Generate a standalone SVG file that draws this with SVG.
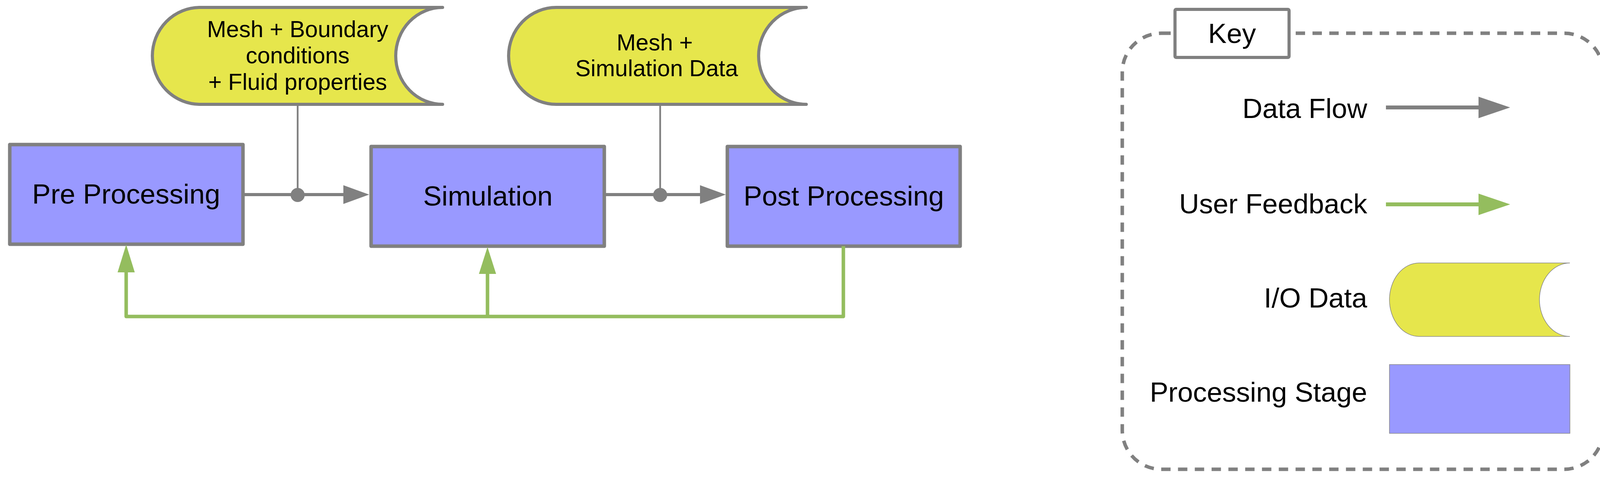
<svg xmlns="http://www.w3.org/2000/svg" width="4124" height="1231" viewBox="0 0 4124 1231">
<style>
text{font-family:"Liberation Sans",Arial,sans-serif;fill:#000}
.big{font-size:71px}
.mid{font-size:59px}
.proc{fill:#9999ff;stroke:#808080;stroke-width:9;stroke-linejoin:round}
.io{fill:#e6e64c;stroke:#808080;stroke-width:8;stroke-linejoin:round;stroke-linecap:round}
.flow{stroke:#808080;stroke-width:8;fill:none}
.thin{stroke:#808080;stroke-width:4.5;fill:none}
.fb{stroke:#94bd5e;stroke-width:9;fill:none;stroke-linejoin:round}
.gh{fill:#808080}
.grh{fill:#94bd5e}
</style>
<rect width="4124" height="1231" fill="#ffffff"/>
<g id="pre-processing">
<rect class="proc" x="25" y="370" width="597" height="255"/>
<text class="big" x="323" y="521" text-anchor="middle">Pre Processing</text>
</g>
<g id="simulation">
<rect class="proc" x="950" y="375" width="597" height="255"/>
<text class="big" x="1249" y="526" text-anchor="middle">Simulation</text>
</g>
<g id="post-processing">
<rect class="proc" x="1862" y="375" width="596" height="255"/>
<text class="big" x="2160" y="526" text-anchor="middle">Post Processing</text>
</g>
<g id="input-data">
<path class="io" d="M512,19 L1133,19 A120,124 0 0 0 1133,267 L512,267 A122,124 0 0 1 512,19 Z"/>
<text class="mid" x="762" y="95" text-anchor="middle">Mesh + Boundary</text>
<text class="mid" x="762" y="162" text-anchor="middle">conditions</text>
<text class="mid" x="762" y="230" text-anchor="middle">+ Fluid properties</text>
</g>
<g id="output-data">
<path class="io" d="M1424,19 L2064,19 A122,124 0 0 0 2064,267 L1424,267 A122,124 0 0 1 1424,19 Z"/>
<text class="mid" x="1676" y="129" text-anchor="middle">Mesh +</text>
<text class="mid" x="1681" y="195" text-anchor="middle">Simulation Data</text>
</g>
<g id="connectors">
<line class="flow" x1="626" y1="498" x2="882" y2="498"/>
<polygon class="gh" points="879,474 945,498 879,522"/>
<line class="thin" x1="762" y1="271" x2="762" y2="498"/>
<circle class="gh" cx="762" cy="499" r="18"/>
<line class="flow" x1="1551" y1="498" x2="1796" y2="498"/>
<polygon class="gh" points="1792,474 1858,498 1792,522"/>
<line class="thin" x1="1690" y1="271" x2="1690" y2="498"/>
<circle class="gh" cx="1690" cy="499" r="18"/>
<polyline class="fb" points="2159,630 2159,810 323,810 323,694"/>
<polygon class="grh" points="301,697 323,626 345,697"/>
<line class="fb" x1="1248" y1="810" x2="1248" y2="698"/>
<polygon class="grh" points="1226,701 1248,632 1270,701"/>
</g>
<g id="key">
<rect x="2873" y="85" width="1231" height="1116" rx="100" ry="100" fill="none" stroke="#808080" stroke-width="9" stroke-dasharray="24 19"/>
<rect x="3008" y="24" width="292" height="123" rx="3" fill="#ffffff" stroke="#808080" stroke-width="8"/>
<text class="big" x="3154" y="110" text-anchor="middle">Key</text>
<text class="big" x="3500" y="302" text-anchor="end">Data Flow</text>
<line x1="3548" y1="275" x2="3788" y2="275" stroke="#808080" stroke-width="10"/>
<polygon class="gh" points="3785,247.5 3866,275 3785,302.5"/>
<text class="big" x="3500" y="546" text-anchor="end">User Feedback</text>
<line x1="3548" y1="523" x2="3788" y2="523" stroke="#94bd5e" stroke-width="10"/>
<polygon class="grh" points="3785,495.5 3866,523 3785,550.5"/>
<text class="big" x="3500" y="787" text-anchor="end">I/O Data</text>
<path d="M3633,673 L4019,673 A78,94 0 0 0 4019,861 L3633,861 A76,94 0 0 1 3633,673 Z" fill="#e6e64c" stroke="#888888" stroke-width="1.5"/>
<text class="big" x="3500" y="1028" text-anchor="end">Processing Stage</text>
<rect x="3557" y="933" width="462" height="176" fill="#9999ff" stroke="#888888" stroke-width="1.5"/>
</g>
</svg>
